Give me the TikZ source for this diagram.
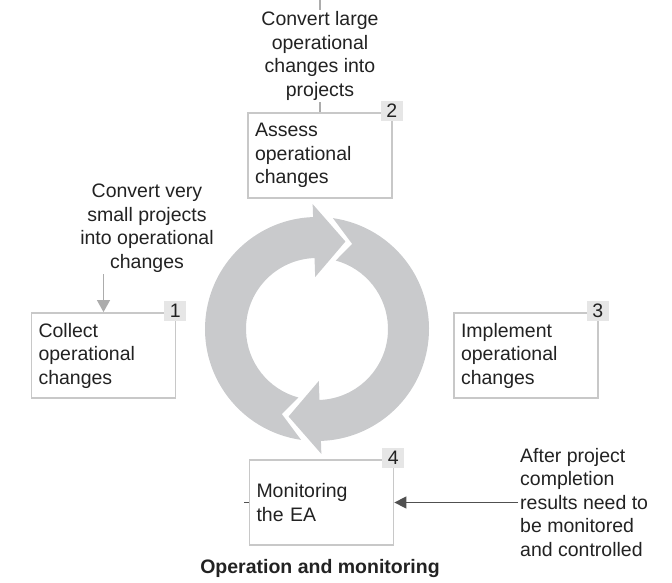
\documentclass[tikz,border=0pt]{standalone}
\usepackage{fontspec}
\setmainfont{Liberation Sans}
\usetikzlibrary{positioning,arrows.meta}

\definecolor{boxgray}{RGB}{200,200,200}
\definecolor{taggray}{RGB}{230,230,230}
\definecolor{cyclegray}{RGB}{201,202,204}
\definecolor{textgray}{RGB}{34,34,34}
\definecolor{linegray}{RGB}{172,172,172}
\definecolor{arrowgray}{RGB}{80,80,80}

\newcommand{\bodyfont}{\fontsize{19.5}{23.5}\selectfont}

\tikzset{
    stepbox/.style={draw=boxgray, line width=1.8pt, fill=white, minimum width=144pt,
        minimum height=85pt, text width=130pt, inner sep=7pt, align=left,
        font=\bodyfont, text=textgray},
    numtag/.style={fill=taggray, minimum width=22pt, minimum height=20pt, inner sep=0pt,
        font=\bodyfont, text=textgray},
    note/.style={inner sep=2pt, font=\bodyfont, text=textgray},
}

\begin{document}
\begin{tikzpicture}[x=1pt, y=1pt]
    \useasboundingbox (0,0) rectangle (672,582);

    % Define centre of the cycle
    \coordinate (O) at (317,253);

    % Draw the two circular arrows
    \foreach \rot in {0,180}{
        \fill[cyclegray, shift={(O)}, rotate=\rot]
            (261.8:112) arc[start angle=261.8, end angle=92, radius=112]
            -- (92:125) -- (72:92) -- (92:52) -- (92:71)
            arc[start angle=92, end angle=254.7, radius=71]
            -- (247.5:92) -- cycle;
    }

    % Steps
    \node[stepbox] (collect) at (103.5,226.5) {Collect\\operational\\changes};
    \node[stepbox] (assess) at (320,426.5) {Assess\\operational\\changes};
    \node[stepbox] (implement) at (526,226.5) {Implement\\operational\\changes};
    \node[stepbox] (monitor) at (321.5,79.5) {Monitoring\\the EA};

    % Number tags
    \node[numtag] (tag1) at ([shift={(-1,1)}]collect.north east) {1};
    \node[numtag] (tag2) at ([shift={(-1,1)}]assess.north east) {2};
    \node[numtag] (tag3) at ([shift={(-1,1)}]implement.north east) {3};
    \node[numtag] (tag4) at ([shift={(-1,1)}]monitor.north east) {4};

    % Notes and their connectors
    \coordinate (top) at (320,582);
    \draw[linegray, line width=1.2pt] (top) -- (assess.north);
    \node[note, align=center, fill=white] (large) at (320,526)
        {Convert large\\operational\\changes into\\projects};

    \node[note, align=center] (small) at (147,354)
        {Convert very\\small projects\\into operational\\changes};
    \draw[linegray, line width=1.2pt, -{Triangle[width=13pt,length=12pt]}]
        (collect.north |- small.south) -- (collect.north);

    \node[note, align=left, anchor=west] (after) at (518,79.5)
        {After project\\completion\\results need to\\be monitored\\and controlled};
    \draw[arrowgray, line width=1.5pt, -{Triangle[width=12pt,length=12pt]}]
        (after.west) -- (monitor.east);
    \draw[arrowgray, line width=1pt] (monitor.west) -- ++(-5,0);

    % Title
    \node[font=\fontsize{19.5}{23.5}\selectfont\bfseries, text=textgray] (title) at (320,14)
        {Operation and monitoring};
\end{tikzpicture}
\end{document}
